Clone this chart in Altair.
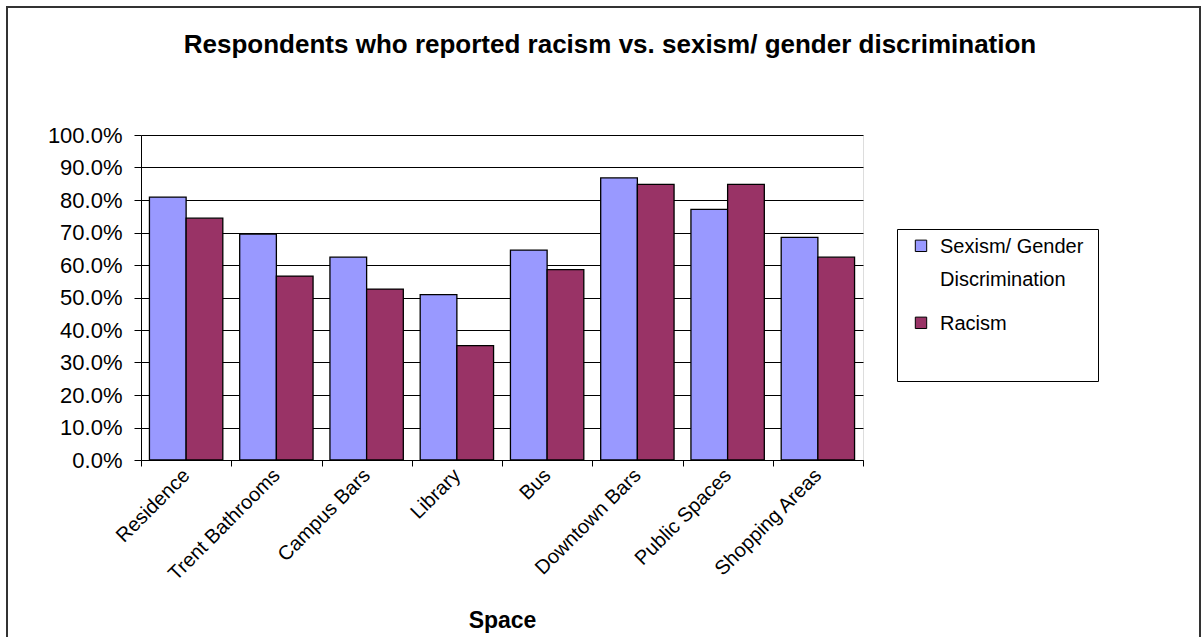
import altair as alt
import pandas as pd

spaces = ["Residence", "Trent Bathrooms", "Campus Bars", "Library", "Bus",
          "Downtown Bars", "Public Spaces", "Shopping Areas"]
sexism = [80.9, 69.5, 62.4, 50.9, 64.6, 86.8, 77.1, 68.5]
racism = [74.4, 56.6, 52.6, 35.2, 58.6, 84.8, 84.8, 62.4]
series = ["Sexism/ Gender Discrimination", "Racism"]
colors = ["#9999FF", "#993366"]
y_ticks = [i / 10 for i in range(11)]

rows = []
for i, s in enumerate(spaces):
    rows.append({"Space": s, "Series": series[0], "Value": sexism[i] / 100})
    rows.append({"Space": s, "Series": series[1], "Value": racism[i] / 100})
df = pd.DataFrame(rows)

FONT = "Liberation Sans"

legend_labels = ("datum.label == 'Sexism/ Gender Discrimination' ? "
                 "['Sexism/ Gender\u00a0\u00a0\u00a0', 'Discrimination'] : [datum.label, '']")

bars = alt.Chart(df).mark_bar(stroke="black", strokeWidth=1.3).encode(
    x=alt.X("Space:N", sort=spaces,
            scale=alt.Scale(paddingInner=0, paddingOuter=0),
            axis=alt.Axis(title="Space", labelAngle=-45, labelAlign="right",
                          labelBaseline="middle", tickBand="extent",
                          labelFontSize=20, labelFont=FONT, labelColor="black",
                          labelLimit=400, labelPadding=6,
                          tickSize=6, tickColor="black", domainColor="black",
                          titleFont=FONT, titleFontSize=23, titleFontWeight="bold",
                          titleColor="black", titlePadding=26)),
    xOffset=alt.XOffset("Series:N", sort=series,
                        scale=alt.Scale(paddingInner=0, paddingOuter=0.23)),
    y=alt.Y("Value:Q", scale=alt.Scale(domain=[0, 1], nice=False),
            axis=alt.Axis(title=None, format=".1%", values=y_ticks,
                          labelFontSize=22, labelFont=FONT, labelColor="black",
                          labelPadding=12, tickSize=7, tickColor="black",
                          domainColor="black", grid=True, gridColor="black",
                          gridWidth=1)),
    color=alt.Color("Series:N", sort=series,
                    scale=alt.Scale(domain=series, range=colors),
                    legend=alt.Legend(title=None, orient="none", legendX=756,
                                      legendY=94, strokeColor="black",
                                      fillColor="white", padding=14,
                                      labelFont=FONT, labelFontSize=20,
                                      labelColor="black", labelLimit=400,
                                      labelBaseline="alphabetic", labelOffset=9,
                                      symbolType="M-1,-2.26H1V-0.26H-1Z",
                                      symbolSize=130,
                                      symbolStrokeColor="black",
                                      symbolStrokeWidth=1, rowPadding=24,
                                      labelExpr=legend_labels)),
)

border = alt.Chart(pd.DataFrame({"k": [0]})).mark_rect(
    fill=None, stroke="#333333", strokeWidth=2
).encode(x=alt.value(-134), x2=alt.value(1059), y=alt.value(-128), y2=alt.value(700))

chart = alt.layer(border, bars).properties(
    width=722, height=325,
    title=alt.TitleParams(
        "Respondents who reported racism vs. sexism/ gender discrimination",
        font=FONT, fontSize=26, fontWeight="bold", color="black",
        anchor="middle", frame="group", dx=108, dy=52, offset=0),
    autosize=alt.AutoSizeParams(type="none"),
    padding={"left": 141, "top": 135, "right": 341, "bottom": 177},
).configure_view(stroke="#808080", strokeWidth=1).configure(
    style={"guide-label": {"lineHeight": 33}}
)

chart.save("out.html", embed_options={"renderer": "svg", "actions": False})
